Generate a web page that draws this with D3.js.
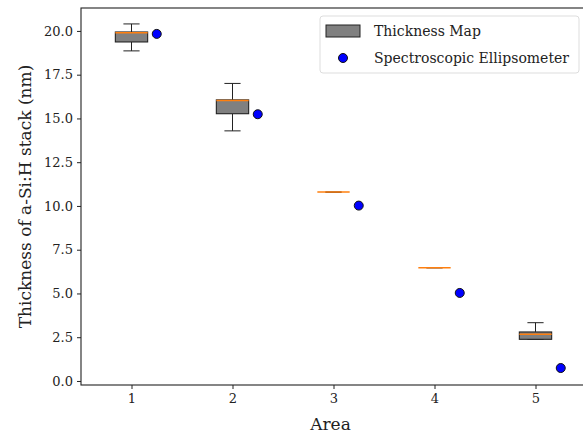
<!DOCTYPE html>
<html lang="en">
<head>
<meta charset="UTF-8">
<title>Thickness boxplot</title>
<style>
  body { margin: 0; background: #fff; }
  svg text { font-family: "DejaVu Serif", serif; fill: #222; }
</style>
</head>
<body>
<svg id="chart" width="583" height="434"></svg>
<script src="https://d3js.org/d3.v7.min.js"></script>
<script>
// data
const areas = [1, 2, 3, 4, 5];
const whiskerLow = [18.86, 14.29, 10.79, 6.47, 2.38];
const q1 = [19.37, 15.27, 10.79, 6.47, 2.38];
const median = [19.89, 16.03, 10.79, 6.47, 2.67];
const q3 = [19.94, 16.06, 10.79, 6.47, 2.80];
const whiskerHigh = [20.4, 17.0, 10.79, 6.47, 3.33];
const ellipsometer = [19.83, 15.24, 10.02, 5.03, 0.74];
const yTicks = [0, 2.5, 5, 7.5, 10, 12.5, 15, 17.5, 20];

const svg = d3.select('#chart');
const m = { left: 81, top: 8, right: 586, bottom: 385 };

const x = d3.scaleLinear().domain([0.5, 5.5]).range([m.left, m.right]);
const y = d3.scaleLinear().domain([-0.23, 21.31]).range([m.bottom, m.top]);

// axes
const yAxis = d3.axisLeft(y).tickValues(yTicks).tickFormat(d3.format('.1f')).tickSize(4).tickPadding(4);
const xAxis = d3.axisBottom(x).tickValues(areas).tickFormat(d3.format('d')).tickSize(4).tickPadding(5);

const gy = svg.append('g').attr('transform', `translate(${m.left},0)`).call(yAxis);
const gx = svg.append('g').attr('transform', `translate(0,${m.bottom})`).call(xAxis);
[gx, gy].forEach(g => {
  g.select('.domain').remove();
  g.selectAll('line').attr('stroke', '#222');
  g.selectAll('text').style('font-size', '13px').attr('fill', '#222');
});

// frame
svg.append('rect')
  .attr('x', m.left).attr('y', m.top)
  .attr('width', m.right - m.left).attr('height', m.bottom - m.top)
  .attr('fill', 'none').attr('stroke', '#222').attr('stroke-width', 1.1);

// boxes
const boxW = x(1.16) - x(1);
const capW = boxW / 2;
const boxes = svg.append('g');
areas.forEach((a, i) => {
  const cx = x(a);
  const g = boxes.append('g');
  g.append('line').attr('x1', cx).attr('x2', cx).attr('y1', y(whiskerHigh[i])).attr('y2', y(q3[i])).attr('stroke', '#222');
  g.append('line').attr('x1', cx).attr('x2', cx).attr('y1', y(q1[i])).attr('y2', y(whiskerLow[i])).attr('stroke', '#222');
  g.append('line').attr('x1', cx - capW).attr('x2', cx + capW).attr('y1', y(whiskerHigh[i])).attr('y2', y(whiskerHigh[i])).attr('stroke', '#222');
  g.append('line').attr('x1', cx - capW).attr('x2', cx + capW).attr('y1', y(whiskerLow[i])).attr('y2', y(whiskerLow[i])).attr('stroke', '#222');
  g.append('rect')
    .attr('x', cx - boxW).attr('width', boxW * 2)
    .attr('y', y(q3[i])).attr('height', Math.max(0, y(q1[i]) - y(q3[i])))
    .attr('fill', '#808080').attr('stroke', '#222').attr('stroke-width', 1.1);
  g.append('line').attr('x1', cx - boxW).attr('x2', cx + boxW).attr('y1', y(median[i])).attr('y2', y(median[i]))
    .attr('stroke', '#ff7f0e').attr('stroke-width', 1.5);
});

// ellipsometer points
svg.append('g').selectAll('circle')
  .data(ellipsometer)
  .join('circle')
  .attr('cx', (d, i) => x(areas[i] + 0.25))
  .attr('cy', d => y(d))
  .attr('r', 4.5)
  .attr('fill', '#0000ff')
  .attr('stroke', '#111')
  .attr('stroke-width', 1);

// labels
svg.append('text').attr('x', (m.left + m.right) / 2 - 3).attr('y', 430)
  .attr('text-anchor', 'middle').style('font-size', '17px').text('Area');
svg.append('text').attr('transform', `translate(31,${(m.top + m.bottom) / 2}) rotate(-90)`)
  .attr('text-anchor', 'middle').style('font-size', '17px').text('Thickness of a-Si:H stack (nm)');

// legend
const lg = svg.append('g').attr('transform', 'translate(320,16)');
lg.append('rect').attr('width', 259).attr('height', 57).attr('rx', 3)
  .attr('fill', 'rgba(255,255,255,0.8)').attr('stroke', '#ddd');
lg.append('rect').attr('x', 6).attr('y', 9).attr('width', 34).attr('height', 12)
  .attr('fill', '#808080').attr('stroke', '#222');
lg.append('circle').attr('cx', 23).attr('cy', 42).attr('r', 4.5)
  .attr('fill', '#0000ff').attr('stroke', '#111');
lg.append('text').attr('x', 54).attr('y', 20).style('font-size', '14px').text('Thickness Map');
lg.append('text').attr('x', 54).attr('y', 47).style('font-size', '14px').text('Spectroscopic Ellipsometer');
</script>
</body>
</html>
